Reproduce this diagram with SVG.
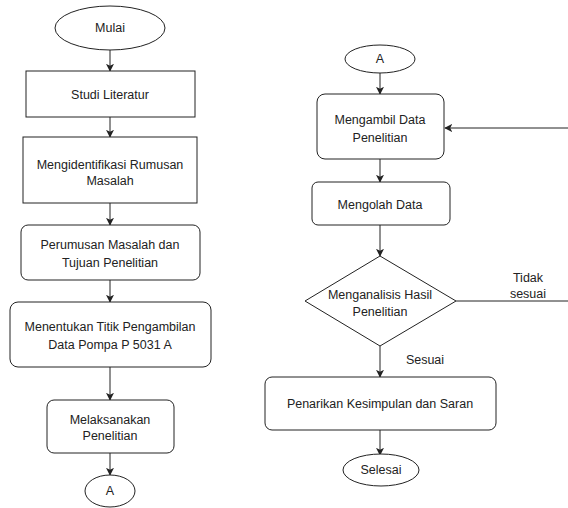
<svg xmlns="http://www.w3.org/2000/svg" width="568" height="508" viewBox="0 0 568 508">
<style>
.s{fill:#fff;stroke:#222;stroke-width:1}
.t{font-family:"Liberation Sans",Arial,sans-serif;font-size:12.5px;fill:#222;text-anchor:middle}
.c{fill:none;stroke:#222;stroke-width:1}
</style>
<defs>
<marker id="ar" viewBox="0 0 10 10" refX="9" refY="5" markerWidth="8" markerHeight="8" markerUnits="userSpaceOnUse" orient="auto">
<path d="M0,0 L10,5 L0,10 L2.5,5 z" fill="#222"/>
</marker>
</defs>
<rect width="568" height="508" fill="#fff"/>
<g id="connectors">
<path class="c" d="M110,50 V71" marker-end="url(#ar)"/>
<path class="c" d="M110,117 V137" marker-end="url(#ar)"/>
<path class="c" d="M110,203 V225" marker-end="url(#ar)"/>
<path class="c" d="M110,280 V302" marker-end="url(#ar)"/>
<path class="c" d="M110,367 V400" marker-end="url(#ar)"/>
<path class="c" d="M110,453 V475" marker-end="url(#ar)"/>
<path class="c" d="M380,73 V94" marker-end="url(#ar)"/>
<path class="c" d="M380,159 V182" marker-end="url(#ar)"/>
<path class="c" d="M380,225 V256" marker-end="url(#ar)"/>
<path class="c" d="M380,346 V377" marker-end="url(#ar)"/>
<path class="c" d="M380,430 V455" marker-end="url(#ar)"/>
<path class="c" d="M456,301 H572 V128 H445" marker-end="url(#ar)"/>
<text class="t" x="528" y="282">Tidak</text>
<text class="t" x="528" y="298">sesuai</text>
<text class="t" x="425" y="364">Sesuai</text>
</g>
<g id="mulai">
<ellipse class="s" cx="110" cy="28" rx="55" ry="22"/>
<text class="t" x="110" y="32">Mulai</text>
</g>
<g id="studi">
<rect class="s" x="26" y="71" width="169" height="46"/>
<text class="t" x="110" y="99">Studi Literatur</text>
</g>
<g id="identifikasi">
<rect class="s" x="23" y="137" width="174" height="66"/>
<text class="t" x="110" y="169">Mengidentifikasi Rumusan</text>
<text class="t" x="110" y="185">Masalah</text>
</g>
<g id="perumusan">
<rect class="s" x="21" y="225" width="179" height="55" rx="7"/>
<text class="t" x="110" y="249">Perumusan Masalah dan</text>
<text class="t" x="110" y="267">Tujuan Penelitian</text>
</g>
<g id="menentukan">
<rect class="s" x="10" y="302" width="201" height="65" rx="8"/>
<text class="t" x="110" y="331">Menentukan Titik Pengambilan</text>
<text class="t" x="110" y="349">Data Pompa P 5031 A</text>
</g>
<g id="melaksanakan">
<rect class="s" x="47" y="400" width="127" height="53" rx="7"/>
<text class="t" x="110" y="424">Melaksanakan</text>
<text class="t" x="110" y="440">Penelitian</text>
</g>
<g id="a1">
<ellipse class="s" cx="110" cy="491" rx="25" ry="16"/>
<text class="t" x="110" y="495">A</text>
</g>
<g id="a2">
<ellipse class="s" cx="380" cy="59" rx="35" ry="14"/>
<text class="t" x="380" y="63">A</text>
</g>
<g id="mengambil">
<rect class="s" x="317" y="94" width="127" height="65" rx="8"/>
<text class="t" x="380" y="124">Mengambil Data</text>
<text class="t" x="380" y="142">Penelitian</text>
</g>
<g id="mengolah">
<rect class="s" x="312" y="182" width="138" height="43" rx="6"/>
<text class="t" x="380" y="209">Mengolah Data</text>
</g>
<g id="menganalisis">
<polygon class="s" points="380,256 456,301 380,346 305,301"/>
<text class="t" x="380" y="299">Menganalisis Hasil</text>
<text class="t" x="380" y="316">Penelitian</text>
</g>
<g id="penarikan">
<rect class="s" x="265" y="377" width="231" height="53" rx="7"/>
<text class="t" x="380" y="408">Penarikan Kesimpulan dan Saran</text>
</g>
<g id="selesai">
<ellipse class="s" cx="381" cy="470" rx="38" ry="16"/>
<text class="t" x="381" y="474">Selesai</text>
</g>
</svg>
